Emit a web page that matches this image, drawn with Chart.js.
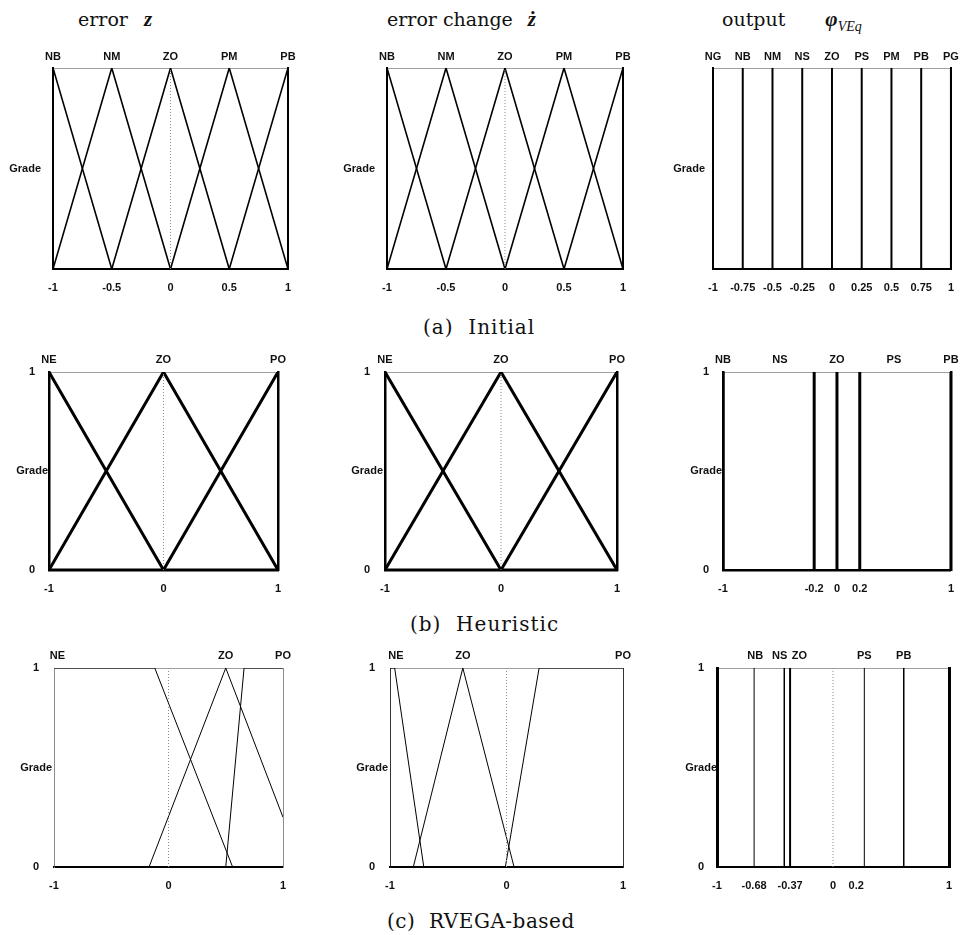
<!DOCTYPE html>
<html>
<head>
<meta charset="utf-8">
<script src="https://cdn.jsdelivr.net/npm/chart.js@4.4.1/dist/chart.umd.min.js"></script>
<style>
  body { margin: 0; background: #fff; }
  #page { position: relative; width: 966px; height: 935px; background: #fff; overflow: hidden; }
  canvas { position: absolute; }
  .txt { position: absolute; font-family: 'DejaVu Serif', 'Liberation Serif', serif; color: #111; white-space: pre; line-height: 1; }
  .ttl { font-size: 19px; }
  .cap { font-size: 20px; letter-spacing: 1px; }
  .sym { font-family: 'Liberation Serif', serif; font-weight: bold; font-style: italic; font-size: 21px; }
  .sub { font-family: 'Liberation Serif', serif; font-style: italic; font-size: 14px; position: relative; top: 5px; }
</style>
</head>
<body>
<div id="page">
  <div class="txt ttl" style="left:78px; top:9px;">error<span class="sym" style="margin-left:16px">z</span></div>
  <div class="txt ttl" style="left:387px; top:9px;">error change<span class="sym" style="margin-left:15px">ż</span></div>
  <div class="txt ttl" style="left:722px; top:9px;">output<span class="sym" style="margin-left:40px">φ</span><span class="sub">VEq</span></div>

  <canvas id="a1" width="315" height="270" style="left:0px; top:35px;"></canvas>
  <canvas id="a2" width="320" height="270" style="left:320px; top:35px;"></canvas>
  <canvas id="a3" width="326" height="270" style="left:640px; top:35px;"></canvas>
  <div class="txt cap" style="left:423px; top:317px;">(a)  Initial</div>

  <canvas id="b1" width="315" height="265" style="left:0px; top:340px;"></canvas>
  <canvas id="b2" width="320" height="265" style="left:320px; top:340px;"></canvas>
  <canvas id="b3" width="326" height="265" style="left:640px; top:340px;"></canvas>
  <div class="txt cap" style="left:410px; top:614px;">(b)  Heuristic</div>

  <canvas id="c1" width="315" height="265" style="left:0px; top:637px;"></canvas>
  <canvas id="c2" width="320" height="265" style="left:320px; top:637px;"></canvas>
  <canvas id="c3" width="326" height="265" style="left:640px; top:637px;"></canvas>
  <div class="txt cap" style="left:387px; top:911px; letter-spacing:0.5px;">(c)  RVEGA-based</div>
</div>

<script>
// (a) Initial: input membership functions (same for error and error change)
const initInNames = ['NB', 'NM', 'ZO', 'PM', 'PB'];
const initInPeaks = [-1, -0.5, 0, 0.5, 1];
const initInTicks = [-1, -0.5, 0, 0.5, 1];
const initNB = [[-1, 1], [-0.5, 0], [1, 0]];
const initNM = [[-1, 0], [-0.5, 1], [0, 0], [1, 0]];
const initZO = [[-1, 0], [-0.5, 0], [0, 1], [0.5, 0], [1, 0]];
const initPM = [[-1, 0], [0, 0], [0.5, 1], [1, 0]];
const initPB = [[-1, 0], [0.5, 0], [1, 1]];

// (a) Initial: output singletons
const initOutNames = ['NG', 'NB', 'NM', 'NS', 'ZO', 'PS', 'PM', 'PB', 'PG'];
const initOutCenters = [-1, -0.75, -0.5, -0.25, 0, 0.25, 0.5, 0.75, 1];
const initOutTicks = [-1, -0.75, -0.5, -0.25, 0, 0.25, 0.5, 0.75, 1];

// (b) Heuristic: inputs
const heurInNames = ['NE', 'ZO', 'PO'];
const heurInPeaks = [-1, 0, 1];
const heurInTicks = [-1, 0, 1];
const heurNE = [[-1, 1], [0, 0], [1, 0]];
const heurZO = [[-1, 0], [0, 1], [1, 0]];
const heurPO = [[-1, 0], [0, 0], [1, 1]];

// (b) Heuristic: output
const heurOutNames = ['NB', 'NS', 'ZO', 'PS', 'PB'];
const heurOutLabelPos = [-1, -0.5, 0, 0.5, 1];
const heurOutCenters = [-1, -0.2, 0, 0.2, 1];
const heurOutTicks = [-1, -0.2, 0, 0.2, 1];

// (c) RVEGA-based: error
const gaErrNames = ['NE', 'ZO', 'PO'];
const gaErrLabelPos = [-0.97, 0.5, 1];
const gaErrNE = [[-1, 1], [-0.12, 1], [0.56, 0], [1, 0]];
const gaErrZO = [[-1, 0], [-0.17, 0], [0.5, 1], [1, 0.25]];
const gaErrPO = [[-1, 0], [0.5, 0], [0.66, 1], [1, 1]];

// (c) RVEGA-based: error change
const gaChgNames = ['NE', 'ZO', 'PO'];
const gaChgLabelPos = [-0.95, -0.375, 1];
const gaChgNE = [[-1, 1], [-0.96, 1], [-0.71, 0], [1, 0]];
const gaChgZO = [[-1, 0], [-0.8, 0], [-0.375, 1], [0.065, 0], [1, 0]];
const gaChgPO = [[-1, 0], [-0.01, 0], [0.28, 1], [1, 1]];

// (c) RVEGA-based: output
const gaOutNames = ['NB', 'NS', 'ZO', 'PS', 'PB'];
const gaOutLabelPos = [-0.67, -0.46, -0.29, 0.27, 0.61];
const gaOutCenters = [-0.68, -0.42, -0.37, 0.27, 0.61];
const gaOutWidths = [1, 1.5, 2, 1, 1.5];
const gaOutTicks = [-1, -0.68, -0.37, 0, 0.2, 1];

const gradeTicksA = [0.5];
const gradeLabelsA = ['Grade'];
const gradeTicks = [0, 0.5, 1];
const gradeLabels = ['0', 'Grade', '1'];

const labelFont = { family: "'Liberation Sans Narrow', 'Liberation Sans', Arial, sans-serif", size: 11, weight: 'bold' };

function makePanel(id, o) {
    const datasets = [];
    // dotted line at x = 0
    if (o.zeroLine) {
        datasets.push({
            data: [{ x: 0, y: 0 }, { x: 0, y: 1 }],
            borderColor: '#8c8c8c', borderWidth: 1, borderDash: [1, 2]
        });
    }
    (o.mfs || []).forEach(function(mf) {
        datasets.push({
            data: mf.map(p => ({ x: p[0], y: p[1] })),
            borderColor: '#000', borderWidth: o.lw
        });
    });
    (o.singles || []).forEach(function(c, i) {
        datasets.push({
            data: [{ x: c, y: 0 }, { x: c, y: 1 }],
            borderColor: '#000',
            borderWidth: Array.isArray(o.slw) ? o.slw[i] : o.slw
        });
    });
    datasets.forEach(d => { d.showLine = true; d.pointRadius = 0; d.tension = 0; });

    new Chart(document.getElementById(id), {
        type: 'scatter',
        data: { datasets: datasets },
        options: {
            responsive: false,
            animation: false,
            layout: { padding: 0 },
            plugins: { legend: { display: false }, tooltip: { enabled: false } },
            scales: {
                x: {
                    type: 'linear', position: 'bottom', min: -1, max: 1,
                    grid: { display: false, drawTicks: false },
                    border: { color: '#000', width: o.bottomW },
                    afterBuildTicks: s => { s.ticks = o.xTicks.map(v => ({ value: v })); },
                    afterFit: s => { s.height = o.B; },
                    ticks: { autoSkip: false, maxRotation: 0, padding: 12, color: '#111', font: labelFont,
                             callback: v => String(v) }
                },
                top: {
                    type: 'linear', position: 'top', axis: 'x', min: -1, max: 1,
                    grid: { display: false, drawTicks: false },
                    border: { color: '#a0a0a0', width: 1, dash: o.topDash || [] },
                    afterBuildTicks: s => { s.ticks = o.topPos.map(v => ({ value: v })); },
                    afterFit: s => { s.height = o.T; },
                    ticks: { autoSkip: false, maxRotation: 0, padding: o.topPad, color: '#111', font: labelFont,
                             callback: (v, i) => o.topNames[i] }
                },
                y: {
                    type: 'linear', position: 'left', min: 0, max: 1,
                    grid: { display: false, drawTicks: false },
                    border: { color: o.sideColor, width: o.sideW, dash: o.sideDash || [] },
                    afterBuildTicks: s => { s.ticks = o.yTicks.map(v => ({ value: v })); },
                    afterFit: s => { s.width = o.L; },
                    ticks: { crossAlign: 'center', padding: o.yPad, color: '#111', font: labelFont,
                             callback: (v, i) => o.yLabels[i] }
                },
                right: {
                    type: 'linear', position: 'right', axis: 'y', min: 0, max: 1,
                    grid: { display: false, drawTicks: false },
                    border: { color: o.sideColor, width: o.sideW, dash: o.sideDash || [] },
                    afterFit: s => { s.width = o.R; },
                    ticks: { display: false }
                }
            }
        }
    });
}

document.addEventListener('DOMContentLoaded', function() {
    const initMFs = [initNB, initNM, initZO, initPM, initPB];
    const rowA = { T: 33, B: 36, topPad: 4, yTicks: gradeTicksA, yLabels: gradeLabelsA,
                   bottomW: 2, sideColor: '#000', sideW: 2 };
    makePanel('a1', Object.assign({}, rowA, { L: 53, R: 27, yPad: 12, zeroLine: true, mfs: initMFs, lw: 1.6,
        xTicks: initInTicks, topPos: initInPeaks, topNames: initInNames }));
    makePanel('a2', Object.assign({}, rowA, { L: 67, R: 17, yPad: 12, zeroLine: true, mfs: initMFs, lw: 1.6,
        xTicks: initInTicks, topPos: initInPeaks, topNames: initInNames }));
    makePanel('a3', Object.assign({}, rowA, { L: 73, R: 11, yPad: 8, singles: initOutCenters, slw: 2,
        xTicks: initOutTicks, topPos: initOutCenters, topNames: initOutNames }));

    const heurMFs = [heurNE, heurZO, heurPO];
    const rowB = { T: 32, B: 35, topPad: 5, yTicks: gradeTicks, yLabels: gradeLabels,
                   bottomW: 2.5, sideColor: '#000', sideW: 2.5 };
    makePanel('b1', Object.assign({}, rowB, { L: 49, R: 37, yPad: 1, zeroLine: true, mfs: heurMFs, lw: 3,
        xTicks: heurInTicks, topPos: heurInPeaks, topNames: heurInNames }));
    makePanel('b2', Object.assign({}, rowB, { L: 65, R: 23, yPad: 2, zeroLine: true, mfs: heurMFs, lw: 3,
        xTicks: heurInTicks, topPos: heurInPeaks, topNames: heurInNames }));
    makePanel('b3', Object.assign({}, rowB, { L: 83, R: 11, yPad: 1, singles: heurOutCenters, slw: 3,
        xTicks: heurOutTicks, topPos: heurOutLabelPos, topNames: heurOutNames }));

    const rowC = { T: 31, B: 35, topPad: 5, topDash: [2, 2], yTicks: gradeTicks, yLabels: gradeLabels, bottomW: 2 };
    makePanel('c1', Object.assign({}, rowC, { L: 54, R: 32, yPad: 2, zeroLine: true,
        mfs: [gaErrNE, gaErrZO, gaErrPO], lw: 1, sideColor: '#8c8c8c', sideW: 1, sideDash: [2, 2],
        xTicks: heurInTicks, topPos: gaErrLabelPos, topNames: gaErrNames }));
    makePanel('c2', Object.assign({}, rowC, { L: 70, R: 17, yPad: 2, zeroLine: true,
        mfs: [gaChgNE, gaChgZO, gaChgPO], lw: 1, sideColor: '#333', sideW: 1,
        xTicks: heurInTicks, topPos: gaChgLabelPos, topNames: gaChgNames }));
    makePanel('c3', Object.assign({}, rowC, { L: 77, R: 17, yPad: 0, zeroLine: true,
        singles: gaOutCenters, slw: gaOutWidths, sideColor: '#000', sideW: 3,
        xTicks: gaOutTicks, topPos: gaOutLabelPos, topNames: gaOutNames }));
});
</script>
</body>
</html>
